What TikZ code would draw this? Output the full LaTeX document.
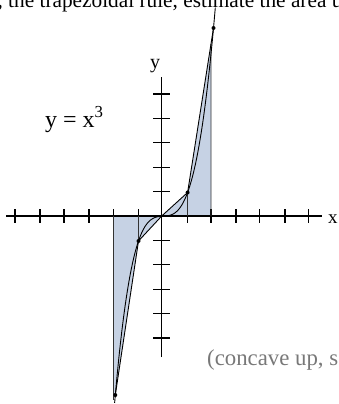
\documentclass[tikz,border=0pt]{standalone}
\usepackage{fontspec}
\setmainfont{Liberation Serif}
\usetikzlibrary{calc}
\definecolor{areafill}{RGB}{198,210,228}
\definecolor{notegray}{RGB}{120,120,120}
\begin{document}
\begin{tikzpicture}[x=1pt,y=-1pt,
  axisline/.style={line width=1.2pt,black},
  curveline/.style={line width=0.9pt,black},
  chordline/.style={line width=0.9pt,black},
  edgeline/.style={line width=0.9pt,black!80},
  tickmark/.style={line width=1.2pt,black},
  ptdot/.style={circle,fill=black,inner sep=0pt,minimum size=4pt},
  txt/.style={inner sep=0pt,anchor=base west}]
\useasboundingbox (0,0) rectangle (338,404);
\clip (0,0) rectangle (338,404);
% key points
\coordinate (O) at (161.7,216);
\coordinate (A) at (115.3,395);
\coordinate (B) at (138.5,241);
\coordinate (C) at (187.6,192.5);
\coordinate (D) at (213.5,28);
\coordinate (Bx) at (138.5,216);
\coordinate (Cx) at (187.6,216);
\coordinate (L0) at (113.3,216);
\coordinate (L1) at (113.3,400);
\coordinate (Lf) at (113.3,397);
\coordinate (R0) at (211,216);
\coordinate (R1) at ($(C)!0.9035!(D)$);
% shaded trapezoids
\fill[areafill] (L0) -- (Lf) -- (A) -- (B) -- (O) -- cycle;
\fill[areafill] (O) -- (C) -- (R1) -- (R0) -- cycle;
% axes
\coordinate (xl) at (6,216);
\coordinate (xr) at (322,216);
\coordinate (yt) at (161.7,77);
\coordinate (yb) at (161.7,357);
\draw[axisline] (xl) -- (xr);
\draw[axisline] (yb) -- (yt);
\foreach \t in {15,40,64,89,113.3,138.5,187.6,211,236,259.3,285,308.3}
  \draw[tickmark] (\t,209) -- (\t,223);
\foreach \t in {94,118.4,142.8,167.2,191.6,240.4,264.8,289.2,313.6,338}
  \draw[tickmark] (153,\t) -- (170,\t);
% edges of trapezoids
\draw[edgeline] (L0) -- (L1);
\draw[edgeline] (R0) -- (R1);
\draw[edgeline] (Bx) -- (B);
\draw[edgeline] (Cx) -- (C);
% chords
\draw[chordline] (A) -- (B) -- (O) -- (C) -- (D);
% curve y = x^3
\draw[curveline] plot[domain=-2.03:0,samples=60] ({161.7+23.2*\x},{216-21.5*\x*\x*\x-3.5*\x});
\draw[curveline] plot[domain=0:2.07,samples=60] ({161.7+25.9*\x},{216-23.5*\x*\x*\x});
% dots
\node[ptdot] (dA) at (A) {};
\node[ptdot] (dB) at (B) {};
\node[ptdot] (dC) at (C) {};
\node[ptdot] (dD) at (D) {};
% labels
\node[txt,font=\fontsize{20}{20}\selectfont] (ylab) at (150,68) {y};
\node[txt,font=\fontsize{19}{19}\selectfont] (xlab) at (328,223) {x};
\node[txt,font=\fontsize{24}{24}\selectfont] (eq) at (45,127) {y = x\textsuperscript{3}};
\node[txt,font=\fontsize{21.3}{21.3}\selectfont] (top) at (-2.6,7.5) {, the trapezoidal rule, estimate the area un};
\node[txt,font=\fontsize{22.8}{22.8}\selectfont,text=notegray] (note) at (207,365) {(concave up, so};
\end{tikzpicture}
\end{document}
